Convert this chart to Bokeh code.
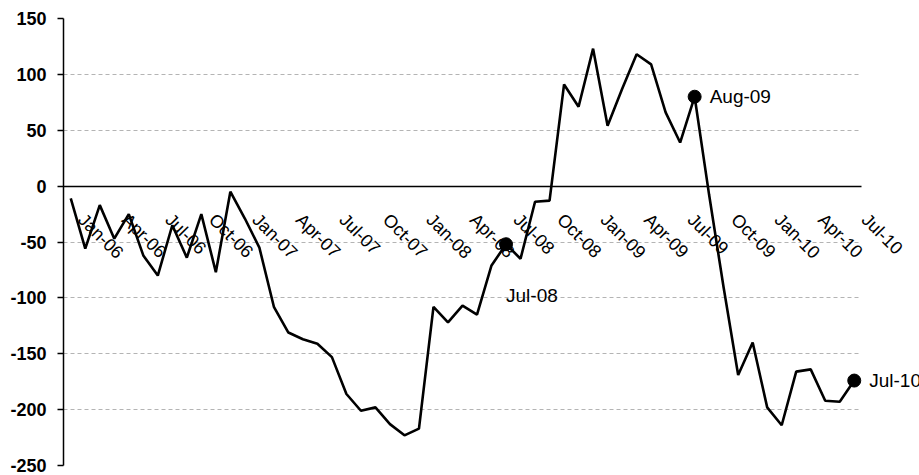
import math
from bokeh.plotting import figure
from bokeh.models import FixedTicker, Range1d
from bokeh.core.properties import value
from bokeh.embed import file_html
from bokeh.resources import INLINE

# Monthly series, Jan-06 .. Jul-10
values = [-11, -56, -17, -47, -25, -62, -80, -35, -64, -25, -77, -5,
          -29, -55, -108, -131, -137, -141, -153, -186, -201, -198, -213, -223,
          -217, -108, -122, -107, -115, -71, -52, -65, -14, -13, 91, 71,
          123, 54, 87, 118, 109, 66, 39, 80, -8, -91, -169, -140,
          -198, -214, -166, -164, -192, -193, -174]
tick_labels = ["Jan-06", "Apr-06", "Jul-06", "Oct-06", "Jan-07", "Apr-07", "Jul-07",
               "Oct-07", "Jan-08", "Apr-08", "Jul-08", "Oct-08", "Jan-09", "Apr-09",
               "Jul-09", "Oct-09", "Jan-10", "Apr-10", "Jul-10"]
y_ticks = [-250, -200, -150, -100, -50, 0, 50, 100, 150]
highlight_right_idx = [43, 54]
highlight_right_labels = ["Aug-09", "Jul-10"]
highlight_below_idx = [30]
highlight_below_labels = ["Jul-08"]

xs = list(range(len(values)))
tick_pos = [i * 3 for i in range(len(tick_labels))]

FONT = "Liberation Sans"
W, H = 919, 475
LEFT, RIGHT_AXIS_END = 63, 861
x_lo = -0.5
x_hi = len(values) - 0.5
unit = (RIGHT_AXIS_END - LEFT) / (x_hi - x_lo)
x_view_hi = x_lo + (W - LEFT) / unit

p = figure(width=W, height=H, output_backend="svg", toolbar_location=None,
           x_range=Range1d(x_lo, x_view_hi), y_range=Range1d(-250, 150),
           min_border_left=LEFT, min_border_right=0, min_border_top=18, min_border_bottom=10)
p.outline_line_color = None
p.background_fill_color = "white"
p.border_fill_color = "white"

# grid (horizontal dashed lines spanning only the category extent)
p.xgrid.visible = False
grid = p.ygrid[0]
if "cross_bounds" in grid.properties():
    grid.ticker = FixedTicker(ticks=y_ticks)
    grid.grid_line_color = "#b4b4b4"
    grid.grid_line_dash = "4 3"
    grid.grid_line_width = 1
    grid.cross_bounds = (x_lo, x_hi)
else:
    grid.visible = False
    p.segment(x0=[x_lo] * len(y_ticks), y0=y_ticks, x1=[x_hi] * len(y_ticks), y1=y_ticks,
              line_color="#b4b4b4", line_dash="4 3", line_width=1)

# y axis
yax = p.yaxis[0]
yax.ticker = FixedTicker(ticks=y_ticks)
yax.major_label_overrides = {t: str(t) for t in y_ticks}
yax.axis_line_color = "black"
yax.axis_line_width = 1.5
yax.major_tick_out = 6
yax.major_tick_in = 0
yax.major_tick_line_color = "black"
yax.major_tick_line_width = 1.5
yax.minor_tick_line_color = None
yax.major_label_standoff = 11
yax.major_label_text_font = FONT
yax.major_label_text_font_style = "bold"
yax.major_label_text_font_size = "18px"
yax.major_label_text_color = "black"

# x axis crossing at 0
xax = p.xaxis[0]
xax.fixed_location = 0
xax.bounds = (x_lo, x_hi)
xax.ticker = FixedTicker(ticks=tick_pos)
xax.major_label_overrides = {pos: "\u00a0\u00a0\u00a0" + lab for pos, lab in zip(tick_pos, tick_labels)}
xax.major_label_orientation = -math.pi / 4
xax.axis_line_color = "black"
xax.axis_line_width = 1.3
xax.major_tick_in = 0
xax.major_tick_out = 0
xax.minor_tick_line_color = None
xax.major_label_standoff = 20
xax.major_label_text_font = FONT
xax.major_label_text_font_size = "18px"
xax.major_label_text_color = "black"

# series
p.line(xs, values, line_color="black", line_width=2.6)

hx_r = highlight_right_idx
hy_r = [values[i] for i in highlight_right_idx]
hx_b = highlight_below_idx
hy_b = [values[i] for i in highlight_below_idx]

p.scatter(hx_r + hx_b, hy_r + hy_b, size=13, color="black")

p.text(hx_r, hy_r, text=highlight_right_labels, x_offset=15, y_offset=0,
       text_font=value(FONT), text_font_size="19px", text_color="black",
       text_align="left", text_baseline="middle")
p.text(hx_b, hy_b, text=highlight_below_labels, x_offset=0, y_offset=51,
       text_font=value(FONT), text_font_size="19px", text_color="black",
       text_align="left", text_baseline="middle")

open("out.html", "w").write(file_html(p, INLINE))
